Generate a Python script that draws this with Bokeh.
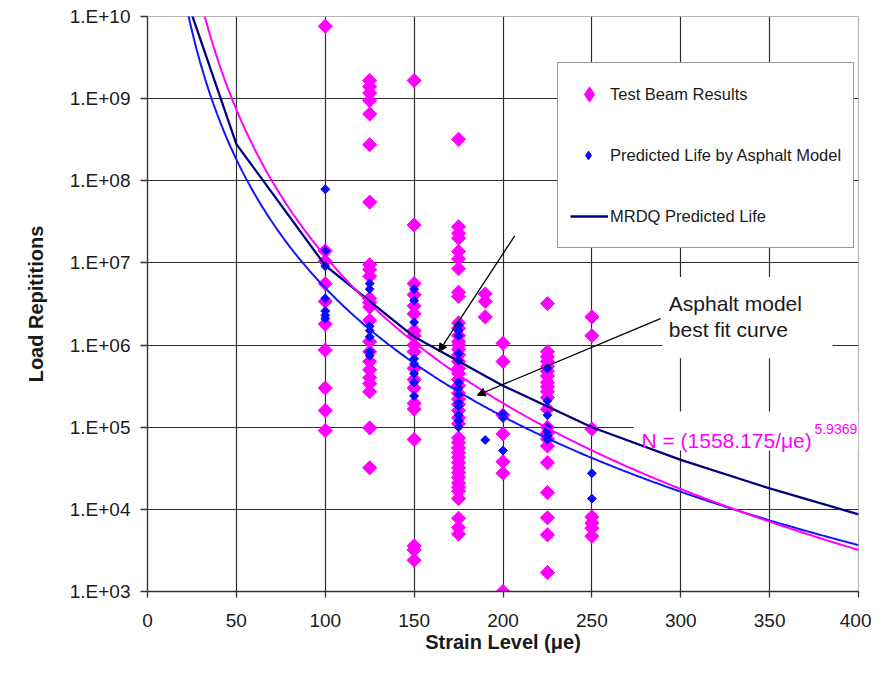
import numpy as np
from bokeh.plotting import figure
from bokeh.models import (FixedTicker, CustomJSTickFormatter, Legend, LegendItem, Label,
                          Arrow, NormalHead, BoxAnnotation)
from bokeh.embed import file_html
from bokeh.resources import INLINE

# ---------------- data ----------------
x_ticks = [0, 50, 100, 150, 200, 250, 300, 350, 400]
y_ticks = [1e3, 1e4, 1e5, 1e6, 1e7, 1e8, 1e9, 1e10]
y_tick_labels = ["1.E+03", "1.E+04", "1.E+05", "1.E+06", "1.E+07", "1.E+08", "1.E+09", "1.E+10"]

# Test beam results (load repetitions) per strain level
test_100 = [7.6e9, 1.4e7, 1.05e7, 5.6e6, 3.4e6, 1.8e6, 8.7e5, 3.0e5, 1.6e5, 9.1e4]
test_125 = [1.66e9, 1.4e9, 1.17e9, 9.5e8, 6.5e8, 2.75e8, 5.5e7, 9.5e6, 8.3e6, 6.9e6, 3.7e6,
            3.3e6, 2.9e6, 2.0e6, 1.1e6, 8.3e5, 6.3e5, 5.0e5, 4.0e5, 3.4e5, 2.7e5, 9.8e4, 3.2e4]
test_150 = [1.66e9, 2.9e7, 5.6e6, 4.1e6, 3.0e6, 2.4e6, 1.5e6, 1.3e6, 1.0e6, 8.3e5, 5.2e5,
            3.8e5, 3.0e5, 1.95e5, 1.66e5, 7.1e4, 3.6e3, 3.2e3, 2.4e3]
test_175 = [3.2e8, 2.75e7, 2.3e7, 2.0e7, 1.38e7, 1.12e7, 8.5e6, 4.4e6, 3.9e6, 1.86e6, 1.6e6,
            1.3e6, 1.1e6, 1.0e6, 8.9e5, 7.6e5, 6.3e5, 5.2e5, 4.5e5, 3.8e5, 3.2e5, 2.6e5,
            2.2e5, 1.9e5, 1.6e5, 1.3e5, 1.1e5, 7.4e4, 6.5e4, 5.6e4, 4.9e4, 4.3e4, 3.7e4,
            3.2e4, 2.8e4, 2.45e4, 2.1e4, 1.86e4, 1.66e4, 1.35e4, 7.8e3, 6.0e3, 5.0e3]
test_190 = [4.2e6, 3.4e6, 2.2e6]
test_200 = [1.05e6, 6.3e5, 1.4e5, 8.3e4, 3.8e4, 2.75e4, 1.0e3]
test_225 = [3.2e6, 8.3e5, 7.2e5, 6.3e5, 5.5e5, 4.8e5, 4.2e5, 3.5e5, 3.1e5, 2.7e5, 2.3e5,
            1.66e5, 1.0e5, 8.5e4, 7.2e4, 5.9e4, 3.7e4, 1.6e4, 7.9e3, 4.9e3, 1.7e3]
test_250 = [2.2e6, 1.3e6, 9.5e4, 8.1e3, 6.8e3, 5.9e3, 4.7e3]

# Predicted life by asphalt model per strain level
pred_100 = [7.9e7, 1.4e7, 9.1e6, 3.7e6, 2.6e6, 2.3e6, 2.1e6]
pred_125 = [5.6e6, 4.8e6, 1.7e6, 1.5e6, 1.26e6, 8.3e5, 7.4e5]
pred_150 = [4.8e6, 3.5e6, 1.9e6, 6.8e5, 5.9e5, 4.5e5, 3.5e5, 2.4e5]
pred_175 = [1.74e6, 1.5e6, 1.3e6, 7.9e5, 6.5e5, 3.5e5, 3.0e5, 2.5e5, 2.0e5, 1.8e5, 1.4e5,
            1.2e5, 1.0e5]
pred_190 = [7.0e4]
pred_200 = [1.45e5, 1.3e5, 5.2e4]
pred_225 = [5.2e5, 2.1e5, 1.4e5, 1.0e5, 8.9e4, 7.9e4, 7.1e4]
pred_250 = [2.75e4, 1.35e4]

strain_levels = [100, 125, 150, 175, 190, 200, 225, 250]
test_groups = [test_100, test_125, test_150, test_175, test_190, test_200, test_225, test_250]
pred_groups = [pred_100, pred_125, pred_150, pred_175, pred_190, pred_200, pred_225, pred_250]

# MRDQ predicted life (line)
mrdq_strain = [25, 50, 100, 150, 200, 250, 300, 350, 400]
mrdq_life = [1.05e10, 2.8e8, 9.3e6, 1.26e6, 3.2e5, 1.0e5, 4.0e4, 1.8e4, 8.7e3]

# Fitted curves N = (K / strain)^b
beam_fit_coef, beam_fit_exp = 1558.175, 5.9369
asphalt_fit_coef, asphalt_fit_exp = 1939.0, 5.2

# ---------------- build ----------------
PINK = "#FF00FF"
BLUE = "#0A0AFF"
NAVY = "#000080"
FONT = "Liberation Sans"

tx = [s for s, g in zip(strain_levels, test_groups) for _ in g]
tn = [v for g in test_groups for v in g]
px = [s for s, g in zip(strain_levels, pred_groups) for _ in g]
pn = [v for g in pred_groups for v in g]

curve_x = np.linspace(20, 400, 400)
beam_curve = (beam_fit_coef / curve_x) ** beam_fit_exp
asphalt_curve = (asphalt_fit_coef / curve_x) ** asphalt_fit_exp

p = figure(width=871, height=660, x_range=(0, 400), y_range=(1e3, 1e10),
           y_axis_type="log", output_backend="svg", toolbar_location=None,
           min_border_left=147, min_border_right=13, min_border_top=16, min_border_bottom=69)
p.background_fill_color = "white"
p.border_fill_color = "white"
p.outline_line_color = "#b5b5b5"
p.outline_line_width = 1.2

# axes
p.xaxis.ticker = FixedTicker(ticks=x_ticks)
p.yaxis.ticker = FixedTicker(ticks=y_ticks)
p.yaxis.formatter = CustomJSTickFormatter(args=dict(vals=y_ticks, labs=y_tick_labels), code="""
const lt = Math.log10(tick);
for (let i = 0; i < vals.length; i++) {
  if (Math.abs(Math.log10(vals[i]) - lt) < 1e-6) { return labs[i]; }
}
return "";
""")
for ax in (p.xaxis[0], p.yaxis[0]):
    ax.major_label_text_font = FONT
    ax.major_label_text_font_size = "19px"
    ax.major_label_text_color = "#1a1a1a"
    ax.axis_label_text_font = FONT
    ax.axis_label_text_font_size = "20px"
    ax.axis_label_text_font_style = "bold"
    ax.axis_label_text_color = "#1a1a1a"
    ax.axis_line_color = "#333333"
    ax.axis_line_width = 1.3
    ax.major_tick_line_color = "#333333"
    ax.major_tick_line_width = 1.3
    ax.major_tick_in = 0
    ax.minor_tick_line_color = None
p.xaxis.major_tick_out = 6
p.yaxis.major_tick_out = 7
p.xaxis.axis_label = "Strain Level (μe)"
p.yaxis.axis_label = "Load Repititions"
p.yaxis.major_label_standoff = 10
p.yaxis.axis_label_standoff = 20
p.xaxis.major_label_standoff = 16
p.xaxis.axis_label_standoff = 1

# grid
p.xgrid.ticker = FixedTicker(ticks=x_ticks[1:])
p.ygrid.ticker = FixedTicker(ticks=y_ticks[1:-1])
p.xgrid.grid_line_color = "#2e2e2e"
p.ygrid.grid_line_color = "#2e2e2e"
p.xgrid.grid_line_width = 1.2
p.ygrid.grid_line_width = 1.2

# white backgrounds of the text boxes (above grid, below data)
p.add_layout(BoxAnnotation(left=289.7, right=385.4, bottom=10**5.84, top=10**6.83,
                           fill_color="white", fill_alpha=1, line_color=None, level="underlay"))
p.add_layout(BoxAnnotation(left=273.4, right=400, bottom=10**4.716, top=10**5.191,
                           fill_color="white", fill_alpha=1, line_color=None, level="underlay"))

# data
pink_r = p.scatter(tx, tn, marker="square", size=10, angle=np.pi / 4,
                   fill_color=PINK, line_color=PINK)
blue_r = p.scatter(px, pn, marker="square", size=6.3, angle=np.pi / 4,
                   fill_color=BLUE, line_color=BLUE)
mrdq_r = p.line(mrdq_strain, mrdq_life, line_color=NAVY, line_width=2.3)
p.line(curve_x, asphalt_curve, line_color="#1414FF", line_width=2)
p.line(curve_x, beam_curve, line_color=PINK, line_width=2)

# legend swatches (hidden renderers, only used to draw legend glyphs)
leg_pink = p.scatter(x=tx[:1], y=tn[:1], marker="diamond", fill_color=PINK, line_color=PINK,
                     visible=False)
leg_blank = p.scatter(x=px[:1], y=pn[:1], marker="diamond", fill_alpha=0, line_alpha=0,
                      visible=False)
leg_blue = p.scatter(x=px[:1], y=pn[:1], marker="diamond", fill_color=BLUE, line_color=BLUE,
                     visible=False)

legA = Legend(items=[LegendItem(label="Test Beam Results", renderers=[leg_pink]),
                     LegendItem(label="Predicted Life by Asphalt Model", renderers=[leg_blank]),
                     LegendItem(label="MRDQ Predicted Life", renderers=[mrdq_r])],
              location=(410, 343), orientation="vertical", padding=12, spacing=23,
              glyph_width=38, glyph_height=38, label_height=38, label_standoff=2, margin=0,
              border_line_color="#333333", border_line_width=1.5,
              background_fill_color="white", background_fill_alpha=1,
              label_text_font=FONT, label_text_font_size="16.5px", label_text_color="#1a1a1a")
p.add_layout(legA)
legB = Legend(items=[LegendItem(label=" ", renderers=[leg_blue])],
              location=(430, 425), padding=0, spacing=0, glyph_width=22, glyph_height=22,
              label_height=22, label_standoff=0, margin=0, border_line_color=None,
              background_fill_alpha=0, label_text_font_size="10px")
p.add_layout(legB)

# annotations
p.add_layout(Label(x=293.3, y=10**6.506, text="Asphalt model", text_font=FONT,
                   text_font_size="21px", text_color="#1a1a1a", text_baseline="alphabetic"))
p.add_layout(Label(x=293.3, y=10**6.189, text="best fit curve", text_font=FONT,
                   text_font_size="21px", text_color="#1a1a1a", text_baseline="alphabetic"))
p.add_layout(Label(x=277.9, y=10**4.842, text=f"N = ({beam_fit_coef}/μe)", text_font=FONT,
                   text_font_size="21px", text_color=PINK, text_baseline="alphabetic"))
p.add_layout(Label(x=375.2, y=10**4.975, text=f"{beam_fit_exp}", text_font=FONT,
                   text_font_size="14px", text_color=PINK, text_baseline="alphabetic"))

p.add_layout(Arrow(end=NormalHead(size=8, fill_color="black", line_color="black", line_width=1),
                   x_start=206.6, y_start=2.14e7, x_end=163.9, y_end=8.3e5,
                   line_color="black", line_width=1.3))
p.add_layout(Arrow(end=NormalHead(size=8, fill_color="black", line_color="black", line_width=1),
                   x_start=288.6, y_start=2.1e6, x_end=185.5, y_end=2.45e5,
                   line_color="black", line_width=1.3))

open("out.html", "w").write(file_html(p, INLINE))
